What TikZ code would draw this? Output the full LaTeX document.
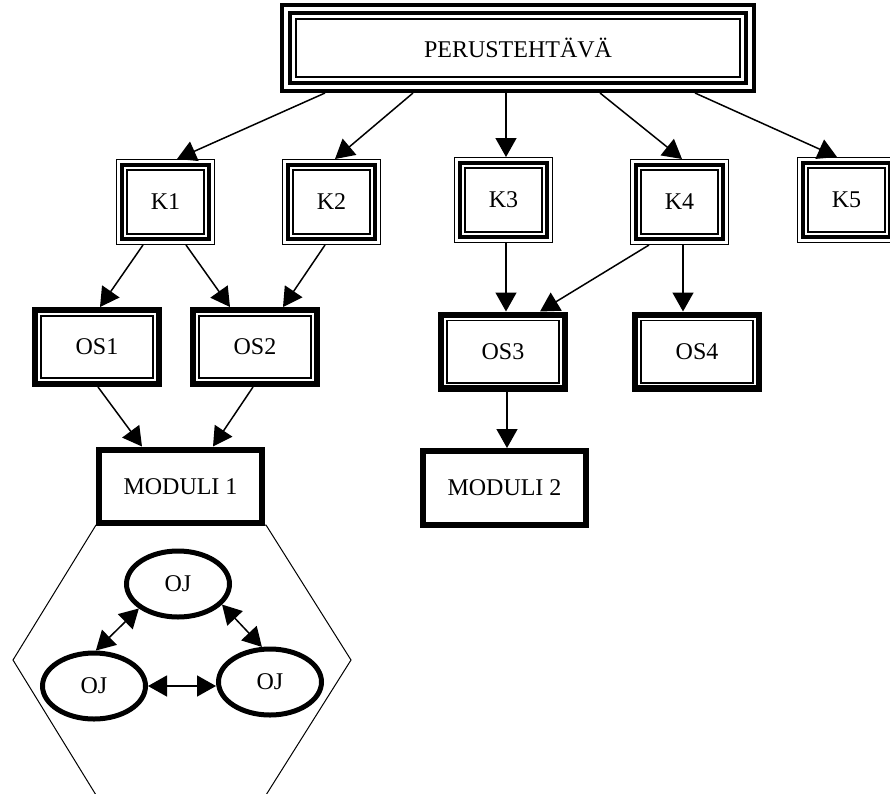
\documentclass[tikz,border=0pt]{standalone}
\usepackage{fontspec}
\setmainfont{Liberation Serif}
\usetikzlibrary{arrows.meta,shapes.geometric}
\newcommand\inrect[3]{\draw[line width=#1] ([xshift=#3,yshift=-#3]#2.north west) rectangle ([xshift=-#3,yshift=#3]#2.south east);}
\newcommand\topborder[1]{\inrect{4pt}{#1}{2pt}\inrect{4.5pt}{#1}{10pt}\inrect{2.4pt}{#1}{16.2pt}}
\newcommand\kborder[1]{\inrect{1.4pt}{#1}{0.7pt}\inrect{4.2pt}{#1}{6pt}\inrect{1.6pt}{#1}{11pt}}
\newcommand\osborder[1]{\inrect{6.4pt}{#1}{3.2pt}\inrect{1.6pt}{#1}{8.8pt}}
\newcommand\modborder[1]{\inrect{6.3pt}{#1}{3.2pt}}
\begin{document}
\begin{tikzpicture}[x=1pt,y=1pt,
  every node/.style={font=\fontsize{24}{28}\selectfont},
  boxnode/.style={rectangle, inner sep=0pt, outer sep=0pt},
  topbox/.style={boxnode, minimum width=476pt, minimum height=90pt},
  kbox/.style={boxnode, minimum width=99pt, minimum height=86pt},
  osbox/.style={boxnode, minimum width=130pt, minimum height=80pt},
  modbox/.style={boxnode, minimum width=169pt, minimum height=80pt},
  ojnode/.style={ellipse, draw, line width=5pt, minimum width=103pt, minimum height=66pt, inner sep=0pt},
  arr/.style={line width=1.5pt, -{Triangle[length=19pt,width=21pt]}},
  darr/.style={line width=1.5pt, {Triangle[length=19pt,width=21pt]}-{Triangle[length=19pt,width=21pt]}}
]
\useasboundingbox (0,0) rectangle (890,-793);
\fill[white] (0,0) rectangle (890,-793);
\clip (0,0) rectangle (890,-793);

% hexagon
\draw[line width=1pt] (96,-525) -- (13,-660) -- (96,-795) -- (266,-795) -- (351,-660) -- (266,-525) -- cycle;

% nodes
\node[topbox] (T) at (518,-48) {PERUSTEHTÄVÄ};
\node[kbox] (K1) at (165.5,-202) {K1};
\node[kbox] (K2) at (331.5,-202) {K2};
\node[kbox] (K3) at (503.5,-200) {K3};
\node[kbox] (K4) at (679.5,-202) {K4};
\node[kbox] (K5) at (846.5,-200) {K5};
\node[osbox] (OS1) at (97,-347) {OS1};
\node[osbox] (OS2) at (255,-347) {OS2};
\node[osbox] (OS3) at (503,-351.5) {OS3};
\node[osbox] (OS4) at (697,-351.5) {OS4};
\node[modbox, fill=white] (M1) at (180.5,-486.5) {MODULI 1};
\node[modbox] (M2) at (504.5,-488) {MODULI 2};
\node[ojnode] (OJt) at (178,-584) {OJ};
\node[ojnode] (OJl) at (94,-686) {OJ};
\node[ojnode] (OJr) at (270,-682) {OJ};

% borders
\topborder{T}
\kborder{K1}\kborder{K2}\kborder{K3}\kborder{K4}\kborder{K5}
\osborder{OS1}\osborder{OS2}\osborder{OS3}\osborder{OS4}
\modborder{M1}\modborder{M2}

% edges
\draw[arr] ([xshift=-193pt]T.south) -- ([xshift=11.5pt]K1.north);
\draw[arr] ([xshift=-105pt]T.south) -- ([xshift=3.5pt]K2.north);
\draw[arr] ([xshift=-12pt]T.south) -- ([xshift=2.5pt]K3.north);
\draw[arr] ([xshift=82pt]T.south) -- ([xshift=2.5pt]K4.north);
\draw[arr] ([xshift=177pt]T.south) -- ([xshift=-9.5pt]K5.north);
\draw[arr] ([xshift=-22.5pt]K1.south) -- ([xshift=3pt]OS1.north);
\draw[arr] ([xshift=20.5pt]K1.south) -- ([xshift=-25pt]OS2.north);
\draw[arr] ([xshift=-6.5pt]K2.south) -- ([xshift=28pt]OS2.north);
\draw[arr] ([xshift=2.5pt]K3.south) -- ([xshift=3pt]OS3.north);
\draw[arr] ([xshift=-30.5pt]K4.south) -- ([xshift=37pt]OS3.north);
\draw[arr] ([xshift=3.5pt]K4.south) -- ([xshift=-14pt]OS4.north);
\draw[arr] ([xshift=1pt]OS1.south) -- ([xshift=-38.5pt]M1.north);
\draw[arr] ([xshift=-2pt]OS2.south) -- ([xshift=32.5pt]M1.north);
\draw[arr] ([xshift=4pt]OS3.south) -- ([xshift=2.5pt]M2.north);

\draw[darr] (OJt.212) -- (OJl.87);
\draw[darr] (OJt.-25) -- (OJr.103);
\draw[darr] (OJl.east) -- (OJr.west |- OJl.east);
\end{tikzpicture}
\end{document}
